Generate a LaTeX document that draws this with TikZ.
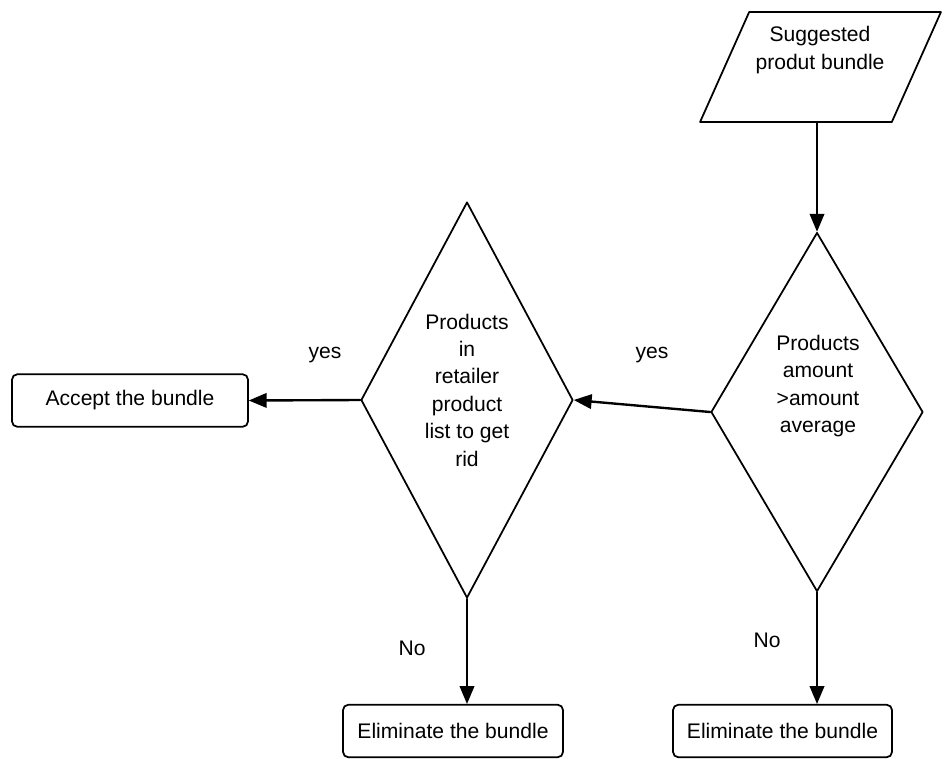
\documentclass[tikz,border=0pt]{standalone}
\usepackage{fontspec}
\setmainfont{Liberation Sans}
\usetikzlibrary{arrows}
\usetikzlibrary{shapes.geometric}

\tikzset{
  decision/.style={draw,diamond,line width=1pt,inner sep=0pt,minimum width=4.24cm},
  endbox/.style={draw,rectangle,rounded corners=3pt,line width=1pt,minimum height=1.05cm},
  flowtxt/.style={align=center,font=\fontsize{12}{15.6}\selectfont},
  answer/.style={fill=white,inner sep=6pt,font=\fontsize{12}{14}\selectfont}
}

\begin{document}
\begin{tikzpicture}[line cap=round,line join=round,>=triangle 45,x=0.02cm,y=-0.02cm]
        \useasboundingbox (0,0) rectangle (945,758);
        \node [draw,trapezium,trapezium left angle=71,trapezium right angle=109,trapezium stretches=true,line width=1pt,minimum width=4.82cm,minimum height=2.2cm] (bundle) at (820.5,67) {};
        \node [flowtxt] (bundletxt) at (820,50) {Suggested\\produt bundle};
        \node [decision,minimum height=7.18cm] (amount) at (817,412) {};
        \node [flowtxt] (amounttxt) at (818,386) {Products\\amount\\>amount\\average};
        \node [decision,minimum height=7.92cm] (retail) at (467,400) {};
        \node [flowtxt] (retailtxt) at (467,390) {Products\\in\\retailer\\product\\list to get\\rid};
        \node [endbox,flowtxt,minimum width=4.72cm] (accept) at (130,400.5) {Accept the bundle};
        \node [endbox,flowtxt,minimum width=4.4cm] (elimA) at (453,731) {Eliminate the bundle};
        \node [endbox,flowtxt,minimum width=4.38cm] (elimB) at (782.5,731) {Eliminate the bundle};
        \draw [->,line width=1.35pt] (amount.north |- bundle.south) -- (amount.north);
        \draw [->,line width=1.35pt] (amount.west) -- (retail.east);
        \draw [->,line width=1.35pt] (retail.west) -- (accept.east);
        \draw [->,line width=1.35pt] (retail.south) -- (retail.south |- elimA.north);
        \draw [->,line width=1.35pt] (amount.south) -- (amount.south |- elimB.north);
        \node [answer] (yesA) at (325,355) {yes};
        \node [answer] (yesB) at (652,355) {yes};
        \node [answer] (noA) at (412,648) {No};
        \node [answer] (noB) at (767,640) {No};
\end{tikzpicture}
\end{document}
